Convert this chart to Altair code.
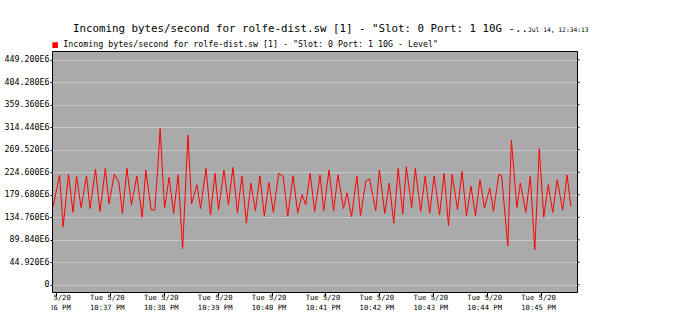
import altair as alt
import pandas as pd

# ---- data (seconds after 22:36:00 on Tue 2014-05-20, value in E6 bytes/s)
seconds = [-3, 4, 8, 14, 19, 23, 28, 34, 38, 44,
           49, 55, 59, 65, 70, 74, 79, 84, 90, 96,
           100, 106, 110, 113, 116, 120, 121, 126, 131, 136,
           141, 147, 151, 157, 161, 167, 172, 177, 181, 187,
           192, 197, 202, 207, 212, 217, 222, 227, 232, 237,
           242, 248, 253, 258, 264, 269, 274, 278, 283, 288,
           294, 298, 304, 309, 314, 320, 324, 329, 335, 339,
           345, 349, 356, 360, 366, 371, 376, 381, 386, 390,
           396, 400, 406, 411, 416, 421, 427, 432, 437, 441,
           447, 452, 457, 462, 467, 472, 477, 483, 487, 493,
           496, 503, 507, 513, 517, 523, 528, 533, 538, 543,
           548, 553, 558, 564, 569, 573, 574]
values_e6 = [157.5, 219.4, 116, 220.7, 144.5, 216, 154, 217.4, 152.3, 231,
             146.5, 232.4, 162, 220.7, 205, 142.5, 232.4, 159.5, 217.4, 134.8,
             229, 150, 149, 225, 312, 180, 153, 214.8, 142.5, 219.4,
             72, 299, 162, 199.8, 152.3, 232.4, 139.3, 222.6, 149.7, 229,
             159.5, 234.4, 143.2, 217.4, 123, 203.1, 147.8, 217.4, 136.7, 204.3,
             144.5, 222.6, 216, 136.7, 218, 143.2, 180.3, 159.5, 222.6, 146.5,
             219.4, 147.8, 229, 147.8, 219.4, 152.3, 183.6, 136, 217.4, 138,
             207, 211.6, 147.8, 229, 142.5, 203.1, 123, 232.4, 141.2, 235.7,
             154.3, 232.4, 146.5, 217.4, 143.2, 217.4, 139.3, 222.6, 118.1, 220.7,
             149.7, 225.9, 138, 196.6, 138, 209.6, 153, 193.4, 146.5, 220.7,
             218, 78, 288.4, 154.3, 203.1, 144.5, 216, 70, 271.4, 134.8,
             199.9, 144.5, 209.6, 149, 219.4, 157.5, 159]
y_ticks = [0, 44.92, 89.84, 134.76, 179.68, 224.6, 269.52, 314.44, 359.36, 404.28, 449.2]
x_tick_times = ["22:36", "22:37", "22:38", "22:39", "22:40", "22:41", "22:42", "22:43", "22:44", "22:45"]
x_range = ["22:35:55.6", "22:45:40"]

series_name = 'Incoming bytes/second for rolfe-dist.sw [1] - "Slot: 0 Port: 1 10G - Level"'
title_text = 'Incoming bytes/second for rolfe-dist.sw [1] - "Slot: 0 Port: 1 10G -..'
stamp_text = "Jul 14, 12:34:13"

DAY = "2014-05-20 "
t0 = pd.Timestamp(DAY + "22:36:00", tz="UTC")


def ms(ts):
    return int(ts.value // 1_000_000)


df = pd.DataFrame({
    "time": [ms(t0 + pd.Timedelta(seconds=s)) for s in seconds],
    "value": values_e6,
    "series": series_name,
})
ticks_df = pd.DataFrame({"tick": y_ticks})

MONO = "DejaVu Sans Mono"

x_scale = alt.Scale(type="utc", domain=[ms(pd.Timestamp(DAY + t, tz="UTC")) for t in x_range])
y_scale = alt.Scale(domain=[-14.4, 466.8], nice=False, zero=False)

x_axis = alt.Axis(
    title=None,
    values=[ms(pd.Timestamp(DAY + t, tz="UTC")) for t in x_tick_times],
    labelExpr="[utcFormat(datum.value, '%a %-m/%d'), utcFormat(datum.value, '%-I:%M %p')]",
    grid=False, domain=False, tickSize=4, tickColor="black",
    labelFont=MONO, labelFontSize=7.2, labelLineHeight=10, labelColor="black",
    labelPadding=-3, labelOffset=-3, labelFlush=False, labelOverlap=False, labelBound=False,
)
y_axis = alt.Axis(
    title=None, values=y_ticks,
    labelExpr="datum.value == 0 ? '0' : format(datum.value, '.3f') + 'E6'",
    grid=True, gridColor="#c8c8c8", gridWidth=1,
    domain=False, tickSize=2, tickColor="black",
    labelFont=MONO, labelFontSize=8.3, labelColor="black", labelPadding=1,
    labelFlush=False, labelOverlap=False, labelBound=False,
)

line = alt.Chart(df).mark_line(strokeWidth=1, interpolate="linear").encode(
    x=alt.X("time:T", scale=x_scale, axis=x_axis),
    y=alt.Y("value:Q", scale=y_scale, axis=y_axis),
    color=alt.Color("series:N", scale=alt.Scale(range=["#ff0000"]),
                    legend=alt.Legend(title=None, orient="none", legendX=-1, legendY=-10,
                                      symbolType="square", symbolSize=9, symbolStrokeWidth=2.6,
                                      labelFont=MONO, labelFontSize=8.3, labelColor="black",
                                      labelOffset=4, labelLimit=0, padding=0)),
)
# small tick marks on the right edge of the plot, at the same values as the left axis
right_ticks = alt.Chart(ticks_df).mark_rule(color="black", strokeWidth=1).encode(
    x=alt.value(525), x2=alt.value(527.5),
    y=alt.Y("tick:Q", scale=y_scale, axis=y_axis),
)

one = alt.Data(values=[{"k": 1}])
# white square left of the plot: hides the part of the first time label that the reference clips
cover = alt.Chart(one).mark_point(shape="square", filled=True, color="white", opacity=1,
                                  size=2704, strokeWidth=0).encode(
    x=alt.value(-26.6), y=alt.value(267.6),
)
title = alt.Chart(one).mark_text(align="left", baseline="alphabetic", font=MONO,
                                 fontSize=10.8, color="black").encode(
    x=alt.value(21), y=alt.value(-19), text=alt.value(title_text),
)
stamp = alt.Chart(one).mark_text(align="left", baseline="alphabetic", font=MONO,
                                 fontSize=6.3, color="black").encode(
    x=alt.value(476), y=alt.value(-19), text=alt.value(stamp_text),
)

chart = alt.layer(line, right_ticks, cover, title, stamp).properties(
    width=525, height=241,
    background="white",
    autosize=alt.AutoSizeParams(type="none"),
    padding={"left": 52, "top": 51, "right": 109, "bottom": 41},
).configure_view(fill="#aaaaaa", stroke="black", strokeWidth=1)

chart.save("out.html", embed_options={"renderer": "svg", "actions": False})
